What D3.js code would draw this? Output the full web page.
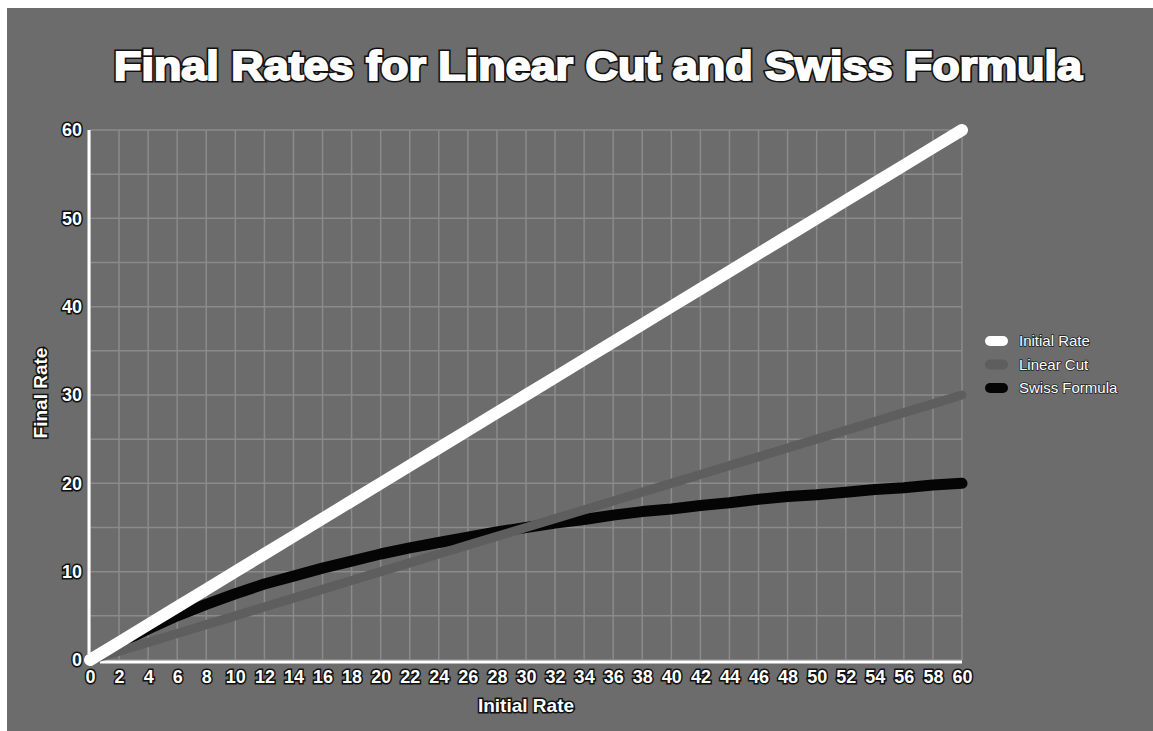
<!DOCTYPE html>
<html>
<head>
<meta charset="utf-8">
<script src="https://cdn.jsdelivr.net/npm/d3@7"></script>
<style>
  body { margin: 0; background: #fff; }
  text { font-family: "Liberation Sans", Arial, sans-serif; }
</style>
</head>
<body>
<div id="chart"></div>
<script>
// initial rates on the x axis
var initialRates = [0, 2, 4, 6, 8, 10, 12, 14, 16, 18, 20, 22, 24, 26, 28, 30,
  32, 34, 36, 38, 40, 42, 44, 46, 48, 50, 52, 54, 56, 58, 60];

// series values
var initialRateVals = [0, 2, 4, 6, 8, 10, 12, 14, 16, 18, 20, 22, 24, 26, 28, 30,
  32, 34, 36, 38, 40, 42, 44, 46, 48, 50, 52, 54, 56, 58, 60];
var linearCutVals = [0, 1, 2, 3, 4, 5, 6, 7, 8, 9, 10, 11, 12, 13, 14, 15,
  16, 17, 18, 19, 20, 21, 22, 23, 24, 25, 26, 27, 28, 29, 30];
var swissVals = [0, 1.9, 3.5, 5, 6.3, 7.5, 8.6, 9.5, 10.4, 11.2, 12, 12.7, 13.3, 13.9, 14.5, 15,
  15.5, 15.9, 16.4, 16.8, 17.1, 17.5, 17.8, 18.2, 18.5, 18.7, 19, 19.3, 19.5, 19.8, 20];

var yTicks = [0, 10, 20, 30, 40, 50, 60];
var xGrid = initialRates;
var yGrid = [0, 5, 10, 15, 20, 25, 30, 35, 40, 45, 50, 55, 60];

var series = [
  {name: "Initial Rate", values: initialRateVals, color: "#ffffff", width: 12},
  {name: "Linear Cut", values: linearCutVals, color: "#5e5e5e", width: 9},
  {name: "Swiss Formula", values: swissVals, color: "#050505", width: 11}
];

var W = 1153, H = 731;
var margin = {top: 130, right: 191, bottom: 71, left: 90};

var svg = d3.select("#chart").append("svg")
    .attr("width", W)
    .attr("height", H);

// gray page
svg.append("rect")
    .attr("x", 7).attr("y", 8)
    .attr("width", W - 7).attr("height", H - 8)
    .attr("fill", "#6c6c6c");

var x = d3.scaleLinear().domain([0, 60]).range([margin.left, W - margin.right]);
var y = d3.scaleLinear().domain([0, 60]).range([H - margin.bottom, margin.top]);

// grid
var grid = svg.append("g").attr("class", "grid")
    .attr("stroke", "#a0a0a0").attr("stroke-width", 1.5).attr("opacity", 0.6);
grid.selectAll("line.v").data(xGrid).enter().append("line")
    .attr("class", "v")
    .attr("x1", function(d) { return x(d); }).attr("x2", function(d) { return x(d); })
    .attr("y1", y(60)).attr("y2", y(0));
grid.selectAll("line.h").data(yGrid).enter().append("line")
    .attr("class", "h")
    .attr("x1", x(0)).attr("x2", x(60))
    .attr("y1", function(d) { return y(d); }).attr("y2", function(d) { return y(d); });

// title, heavy white with a dark rim
var title = "Final Rates for Linear Cut and Swiss Formula";
svg.append("text")
    .attr("x", 598).attr("y", 80)
    .attr("text-anchor", "middle")
    .attr("font-size", 40).attr("font-weight", "bold")
    .attr("fill", "#111").attr("stroke", "#111").attr("stroke-width", 5)
    .attr("textLength", 968).attr("lengthAdjust", "spacingAndGlyphs")
    .text(title);
svg.append("text")
    .attr("x", 598).attr("y", 80)
    .attr("text-anchor", "middle")
    .attr("font-size", 40).attr("font-weight", "bold")
    .attr("fill", "#fff").attr("stroke", "#fff").attr("stroke-width", 2)
    .attr("textLength", 968).attr("lengthAdjust", "spacingAndGlyphs")
    .text(title);

// axes
var xAxis = svg.append("g")
    .attr("transform", "translate(0," + (y(0) + 2) + ")")
    .call(d3.axisBottom(x).tickValues(initialRates).tickSize(0).tickPadding(8));
var yAxis = svg.append("g")
    .attr("transform", "translate(" + (x(0) - 1) + ",0)")
    .call(d3.axisLeft(y).tickValues(yTicks).tickSize(0).tickPadding(7));

[xAxis, yAxis].forEach(function(a) {
  a.select(".domain").attr("stroke", "#fff").attr("stroke-width", 3);
  a.selectAll("text")
      .attr("fill", "#fff")
      .attr("font-size", 18).attr("font-weight", "bold")
      .attr("stroke", "#111").attr("stroke-width", 3)
      .attr("paint-order", "stroke")
      .style("font-family", "'Liberation Sans', Arial, sans-serif");
});
xAxis.select(".domain").attr("d", "M" + (x(0) + 10) + ",0H" + x(60));
yAxis.select(".domain").attr("d", "M0," + y(60) + "V" + (y(0) - 6));

// axis titles
svg.append("text")
    .attr("x", 526).attr("y", 712)
    .attr("text-anchor", "middle")
    .attr("font-size", 19).attr("font-weight", "bold")
    .attr("fill", "#fff").attr("stroke", "#111").attr("stroke-width", 3).attr("paint-order", "stroke")
    .text("Initial Rate");
svg.append("text")
    .attr("transform", "translate(47,393) rotate(-90)")
    .attr("text-anchor", "middle")
    .attr("font-size", 19).attr("font-weight", "bold")
    .attr("fill", "#fff").attr("stroke", "#111").attr("stroke-width", 3).attr("paint-order", "stroke")
    .text("Final Rate");

// lines
var line = d3.line()
    .x(function(d, i) { return x(initialRates[i]); })
    .y(function(d) { return y(d); });

svg.selectAll("path.series").data(series.slice().reverse()).enter().append("path")
    .attr("class", "series")
    .attr("d", function(s) { return line(s.values); })
    .attr("fill", "none")
    .attr("stroke", function(s) { return s.color; })
    .attr("stroke-width", function(s) { return s.width; })
    .attr("stroke-linecap", "round")
    .attr("stroke-linejoin", "round");

// legend
var legend = svg.append("g").attr("transform", "translate(985,341)");
var item = legend.selectAll("g").data(series).enter().append("g")
    .attr("transform", function(d, i) { return "translate(0," + (i * 23.5) + ")"; });
item.append("rect")
    .attr("x", 0).attr("y", -5).attr("width", 23).attr("height", 10).attr("rx", 5)
    .attr("fill", function(d) { return d.color; });
item.append("text")
    .attr("x", 34).attr("y", 5)
    .attr("font-size", 15)
    .attr("fill", "#fff").attr("stroke", "#222").attr("stroke-width", 1.5).attr("paint-order", "stroke")
    .text(function(d) { return d.name; });
</script>
</body>
</html>
